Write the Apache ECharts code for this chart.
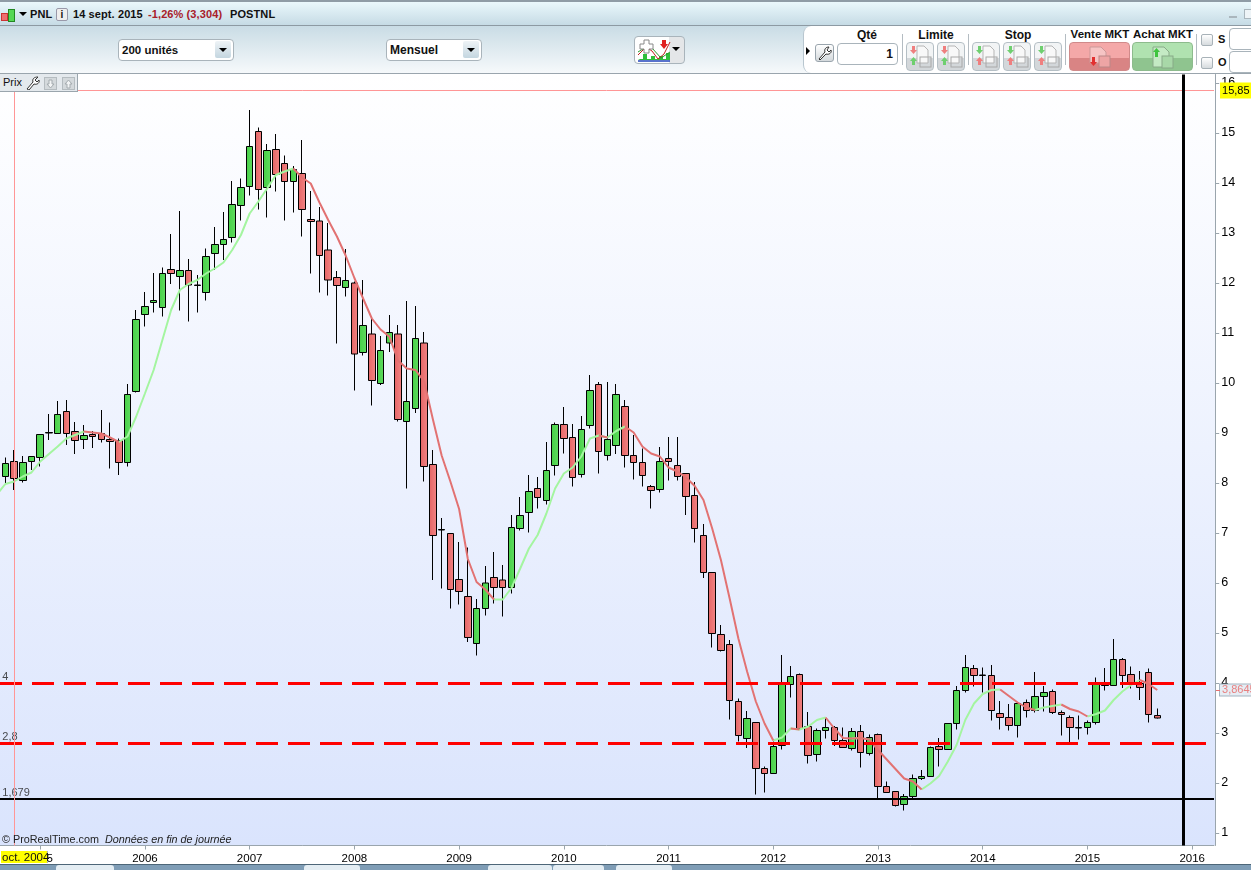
<!DOCTYPE html>
<html>
<head>
<meta charset="utf-8">
<title>PNL</title>
<script src="https://cdn.jsdelivr.net/npm/echarts@6/dist/echarts.min.js"></script>
<style>
  html, body { margin: 0; padding: 0; background: #fff; overflow: hidden; }
  body { width: 1251px; height: 870px; position: relative; font-family: "Liberation Sans", Arial, sans-serif; color: #111; }
  .abs { position: absolute; white-space: nowrap; }
  #plotBg { left: 0; top: 74px; width: 1215px; height: 771px; background: linear-gradient(#ffffff, #dae4fd); }
  #chart { position: absolute; left: 0; top: 0; width: 1251px; height: 870px; }
  #chrome { position: absolute; left: 0; top: 0; width: 1251px; height: 870px; pointer-events: none; }
  #topEdge { left: 0; top: 0; width: 1251px; height: 2px; background: #8f9ca6; }
  #titleBar { left: 0; top: 2px; width: 1251px; height: 23px; background: linear-gradient(#eaf8fc, #c6dbe5); border-bottom: 1px solid #8d9aa3; }
  #toolBar { left: 0; top: 26px; width: 1251px; height: 47px; background: linear-gradient(#c9dce5, #f6f9fb); border-bottom: 1px solid #9aa5ad; }
  #tradePanel { left: 803px; top: 26px; width: 448px; height: 47px; background: #fff; border-left: 1px solid #b8c6cf; border-radius: 8px 0 0 8px; }
  .title { font-size: 11px; letter-spacing: 0.1px; font-weight: bold; top: 8px; }
  .select { top: 39px; height: 20px; background: #fff; border: 1px solid #a9b4bb; border-radius: 4px; font-size: 12px; font-weight: bold; line-height: 20px; padding-left: 3px; box-sizing: content-box; }
  .arrow { width: 0; height: 0; border-left: 4px solid transparent; border-right: 4px solid transparent; border-top: 4px solid #000; }
  .selBtn { top: 41px; width: 16px; height: 17px; background: linear-gradient(#eef3f6, #c4d6e0); border-radius: 2px; }
  .label { font-size: 12px; font-weight: bold; top: 28px; transform: translateX(-50%); }
  .sep { top: 34px; width: 1px; height: 31px; background: #b4bcc2; }
  .btn { top: 42px; height: 27px; border: 1px solid #b5bfc5; border-radius: 4px; background: linear-gradient(#f2f4f5 0 55%, #d3d7da 55% 100%); }
  .btn svg { position: absolute; left: 0; top: 0; }
  .check { left: 1201px; width: 10px; height: 10px; border: 1px solid #a8b2b8; border-radius: 2px; background: linear-gradient(#fff, #d6dbde); }
  .field { left: 1229px; width: 30px; height: 20px; border: 1px solid #a9b4bb; border-radius: 4px; background: #fff; }
  #prixTab { left: 0; top: 74px; width: 77px; height: 17px; background: #e4e9ed; border-right: 1px solid #9aa5ad; border-bottom: 1px solid #9aa5ad; font-size: 11px; line-height: 17px; }
  .mini { top: 77px; width: 11px; height: 11px; background: #d4d9dc; border: 1px solid #b5bcc0; }
  .mini svg { display: block; }
  #crossLabel { left: 1px; top: 851px; width: 46px; height: 12px; background: #ffff00; font-size: 11.5px; line-height: 12px; border-right: 1px solid #aab3ba; }
  #copyright { left: 2px; top: 833px; font-size: 10.8px; color: #222; }
  #priceTick { left: 1216px; top: 690px; width: 4px; height: 1px; background: #e87070; }
  #bottomBar { left: 0; top: 864px; width: 1251px; height: 6px; background: #7f9db6; border-top: 1px solid #4d6678; box-sizing: border-box; }
  .tab { top: 865px; height: 5px; background: #e4edf3; border-radius: 3px 3px 0 0; }
</style>
</head>
<body>
<div id="plotBg" class="abs"></div>
<div id="chart"></div>
<div id="chrome">
  <div id="topEdge" class="abs"></div>
  <div id="titleBar" class="abs"></div>
  <div class="abs" style="left:1px;top:13px;width:5px;height:6px;background:#ee6f6f;border:1px solid #c33"></div>
  <div class="abs" style="left:8px;top:9px;width:5px;height:11px;background:#55d855;border:1px solid #282"></div>
  <div class="abs arrow" style="left:19px;top:12px"></div>
  <div class="abs title" style="left:30px">PNL</div>
  <div class="abs" style="left:56px;top:8px;width:10px;height:11px;border:1px solid #99a;border-radius:2px;background:#eee;font:bold 10px 'Liberation Sans';text-align:center;line-height:11px">i</div>
  <div class="abs title" style="left:73px">14 sept. 2015</div>
  <div class="abs title" style="left:148px;color:#a8202a">-1,26% (3,304)</div>
  <div class="abs title" style="left:230px">POSTNL</div>
  <div class="abs" style="left:1229px;top:16px;width:8px;height:2px;background:#aab6bd"></div>
  <div class="abs" style="left:1244px;top:9px;width:7px;height:8px;border:1px solid #aab6bd;background:#eef4f7"></div>

  <div id="toolBar" class="abs"></div>
  <div class="abs select" style="left:118px;width:111px;font-size:11.5px">200 unités</div>
  <div class="abs selBtn" style="left:215px"></div>
  <div class="abs arrow" style="left:219px;top:48px"></div>
  <div class="abs select" style="left:386px;width:91px">Mensuel</div>
  <div class="abs selBtn" style="left:463px"></div>
  <div class="abs arrow" style="left:467px;top:48px"></div>
  <div class="abs" style="left:634px;top:36px;width:49px;height:26px;border:1px solid #a9b4bb;border-radius:4px;background:linear-gradient(90deg,#fff 0 70%,#e4e6e8 70% 100%)">
    <svg width="36" height="26" style="position:absolute;left:2px;top:1px">
      <path d="M3 21h3v-5h4v5h4v-3h4v3h4v-3h4v3h3v-6h4v7H1z" fill="#2fbf3a"/>
      <path d="M1 23h32" stroke="#2244bb" stroke-width="1.5"/>
      <path d="M1 17l8-8 6 4 6 8 6-5 6-12" fill="none" stroke="#c02020"/>
      <path d="M1 14l8-5 6 1 9 10 9-6" fill="none" stroke="#2a9a2a"/>
      <path d="M3 6h4V2h5v4h4v5h-4v4H7v-4H3z" fill="#fff" stroke="#888"/>
      <path d="M25 2h4v4h2l-4 5-4-5h2z" fill="#e02020"/>
    </svg>
  </div>
  <div class="abs arrow" style="left:672px;top:47px"></div>

  <div id="tradePanel" class="abs"></div>
  <div class="abs" style="left:806px;top:47px;width:0;height:0;border-top:4px solid transparent;border-bottom:4px solid transparent;border-left:4px solid #000"></div>
  <div class="abs" style="left:815px;top:44px;width:17px;height:16px;border:1px solid #9aa5ad;border-radius:3px;background:linear-gradient(#fff,#d4d9dc)">
    <svg width="17" height="16"><path d="M3 14l6-7c-1-3 1-5 4-5l-2 3 2 2 2-2c1 3-2 5-5 4l-6 6z" fill="#fff" stroke="#333"/></svg>
  </div>
  <div class="abs label" style="left:867px">Qté</div>
  <div class="abs" style="left:837px;top:43px;width:55px;height:20px;border:1px solid #a9b4bb;border-radius:4px;font:bold 12px/20px 'Liberation Sans';text-align:right;padding-right:4px">1</div>
  <div class="abs sep" style="left:902px"></div>
  <div class="abs label" style="left:936px">Limite</div>
  <div class="abs btn tradeBtn" style="left:906px;width:26px"></div>
  <div class="abs btn tradeBtn" style="left:937px;width:26px"></div>
  <div class="abs sep" style="left:968px"></div>
  <div class="abs label" style="left:1018px">Stop</div>
  <div class="abs btn tradeBtn" style="left:972px;width:26px"></div>
  <div class="abs btn tradeBtn" style="left:1003px;width:26px"></div>
  <div class="abs btn tradeBtn" style="left:1034px;width:26px"></div>
  <div class="abs sep" style="left:1065px"></div>
  <div class="abs label" style="left:1100px;font-size:11.5px">Vente MKT</div>
  <div class="abs btn" style="left:1069px;width:59px;border-color:#d08a8a;background:linear-gradient(#f4a8a8 0 55%,#d98484 55% 100%)">
    <svg width="59" height="27"><path d="M20 4h11l5 5v11H20z" fill="#f6c4c4" stroke="#c99"/><rect x="29" y="13" width="11" height="11" fill="#eea5a5" stroke="#b88"/><path d="M22 14h3v5h2l-3.5 4-3.5-4h2z" fill="#e23030"/></svg>
  </div>
  <div class="abs label" style="left:1163px;font-size:11.5px">Achat MKT</div>
  <div class="abs btn" style="left:1132px;width:59px;border-color:#8dbb8d;background:linear-gradient(#b0e2b0 0 55%,#8fc48f 55% 100%)">
    <svg width="59" height="27"><path d="M20 4h11l5 5v15H20z" fill="#c4eac4" stroke="#8a8"/><rect x="29" y="13" width="11" height="12" fill="#a8d8a8" stroke="#8a8"/><path d="M22 14h3V9h2L23.500 5 20 9h2z" fill="#3ec43e"/></svg>
  </div>
  <div class="abs sep" style="left:1196px"></div>
  <div class="abs check" style="top:34px"></div>
  <div class="abs title" style="left:1218px;top:33px">S</div>
  <div class="abs field" style="top:28px"></div>
  <div class="abs check" style="top:57px"></div>
  <div class="abs title" style="left:1218px;top:56px">O</div>
  <div class="abs field" style="top:51px"></div>

  <div id="prixTab" class="abs"><span style="padding-left:3px">Prix</span></div>
  <svg class="abs" width="14" height="14" style="left:26px;top:76px"><path d="M1 13l6-7c-1-3 1-5 5-5L9 4l2 2 2-2c1 3-2 5-5 4l-5 6z" fill="#fff" stroke="#333"/></svg>
  <div class="abs mini" style="left:44px"><svg width="11" height="11"><path d="M4 2h3v4h2l-3.500 4L2 6h2z" fill="#f2f4f5" stroke="#a4abaf"/></svg></div>
  <div class="abs mini" style="left:62px"><svg width="11" height="11"><path d="M4 10h3V6h2L5.500 2 2 6h2z" fill="#f2f4f5" stroke="#a4abaf"/></svg></div>

  <div id="copyright" class="abs">© ProRealTime.com &nbsp;<i>Données en fin de journée</i></div>
  <div id="crossLabel" class="abs"><span style="padding-left:1px">oct. 2004</span></div>
  <div id="priceTick" class="abs"></div>
  <div id="bottomBar" class="abs"></div>
  <div class="abs tab" style="left:56px;width:58px"></div>
  <div class="abs tab" style="left:304px;width:56px"></div>
  <div class="abs tab" style="left:488px;width:64px"></div>
  <div class="abs tab" style="left:553px;width:51px"></div>
  <div class="abs tab" style="left:616px;width:56px"></div>
</div>

<script>
// mensuel, de août 2004 (hors écran) à mars 2016
const firstYear = 2004
const firstMonth = 7
const monthCount = 140
const tickYears = ['2005', '2006', '2007', '2008', '2009', '2010', '2011', '2012', '2013', '2014', '2015', '2016']
const priceTicks = [1, 2, 3, 4, 5, 6, 7, 8, 9, 10, 11, 12, 13, 14, 15, 16]

const opens = ['-',
  8.13, 8.43, 8.05, 8.43, 8.51, 9.00, 8.99, 9.43, 9.03, 8.87,
  8.97, 8.99, 8.87, 8.85, 8.41, 9.83, 11.37, 11.61, 11.51, 12.27,
  12.13, 12.25, 11.95, 11.81, 12.59, 12.77, 12.91, 13.55, 13.93, 15.03,
  13.91, 14.67, 14.39, 14.03, 14.19, 13.27, 13.24, 12.66, 12.11, 11.91,
  12.00, 10.61, 10.98, 9.99, 10.80, 10.98, 9.23, 9.49, 10.80, 8.37,
  7.06, 6.99, 6.07, 5.73, 4.79, 5.49, 6.11, 6.06, 5.91, 7.09,
  7.41, 7.89, 7.65, 8.35, 9.17, 8.91, 8.17, 9.15, 9.97, 8.55,
  8.75, 9.53, 8.55, 8.41, 7.93, 7.87, 8.49, 8.35, 8.19, 7.75,
  6.95, 6.21, 4.97, 4.77, 3.63, 2.89, 3.21, 2.29, 2.19, 2.75,
  3.97, 4.17, 3.13, 2.57, 3.05, 3.11, 2.85, 2.69, 3.03, 2.59,
  2.97, 1.93, 1.83, 1.57, 1.73, 2.09, 2.13, 2.73, 2.67, 3.19,
  3.85, 4.29, 4.15, 4.15, 3.39, 3.31, 3.15, 3.61, 3.45, 3.73,
  3.83, 3.41, 3.31, 3.10, 3.11, 3.21, 3.95, 3.95, 4.47, 4.17,
  3.99, 4.21, 3.35
]
const closes = ['-',
  8.39, 8.09, 8.41, 8.53, 8.97, 9.01, 9.37, 8.99, 8.85, 8.95,
  8.93, 8.87, 8.83, 8.41, 9.77, 11.27, 11.53, 11.65, 12.19, 12.19,
  12.25, 11.96, 11.96, 12.53, 12.77, 12.87, 13.57, 13.91, 14.73, 13.87,
  14.65, 14.17, 14.03, 14.27, 13.47, 13.23, 12.55, 12.06, 11.95, 12.05,
  10.58, 11.15, 10.05, 10.65, 11.01, 9.27, 9.63, 10.89, 8.33, 6.95,
  7.07, 5.87, 5.83, 4.91, 5.49, 6.00, 5.91, 5.91, 7.11, 7.35,
  7.83, 7.71, 8.25, 9.17, 8.89, 8.11, 9.07, 9.85, 8.63, 8.87,
  9.77, 8.55, 8.41, 8.15, 7.85, 8.43, 8.43, 8.13, 7.73, 7.09,
  6.21, 4.99, 4.65, 3.65, 2.95, 3.29, 2.29, 2.19, 2.73, 4.01,
  4.13, 3.09, 2.55, 3.05, 3.11, 2.85, 2.71, 3.03, 2.61, 2.91,
  1.93, 1.81, 1.55, 1.73, 2.09, 2.13, 2.71, 2.67, 3.19, 3.85,
  4.31, 4.15, 4.16, 3.45, 3.31, 3.15, 3.59, 3.45, 3.73, 3.81,
  3.41, 3.37, 3.11, 3.11, 3.21, 3.99, 3.96, 4.47, 4.15, 3.99,
  3.91, 3.37, 3.30
]
const lows = ['-',
  7.99, 7.86, 8.01, 8.26, 8.33, 8.86, 8.99, 8.76, 8.58, 8.68,
  8.70, 8.81, 8.29, 8.16, 8.33, 9.81, 11.13, 11.41, 11.33, 11.98,
  11.45, 11.23, 11.41, 11.65, 12.26, 12.46, 12.81, 13.25, 13.75, 13.47,
  13.31, 13.83, 13.25, 13.41, 12.93, 12.19, 11.81, 11.75, 10.79, 11.73,
  9.85, 10.55, 9.55, 9.96, 10.62, 9.23, 7.89, 9.40, 8.03, 6.06,
  5.89, 5.49, 5.57, 4.82, 4.55, 5.35, 5.59, 5.33, 5.79, 7.05,
  7.01, 7.49, 7.57, 8.15, 8.59, 7.93, 8.11, 9.09, 8.19, 8.45,
  8.58, 8.31, 8.07, 7.93, 7.49, 7.81, 8.05, 8.05, 7.36, 6.81,
  6.10, 4.71, 4.63, 3.27, 2.83, 2.70, 1.77, 1.81, 2.18, 2.67,
  3.71, 3.07, 2.39, 2.43, 2.89, 2.74, 2.70, 2.65, 2.31, 2.55,
  1.69, 1.81, 1.53, 1.45, 1.69, 2.06, 2.13, 2.33, 2.67, 3.07,
  3.81, 3.93, 3.81, 3.25, 3.07, 3.05, 2.91, 3.31, 3.41, 3.43,
  3.38, 2.95, 2.81, 2.87, 2.97, 3.17, 3.85, 3.95, 3.90, 3.89,
  3.66, 3.21, 3.29
]
const highs = ['-',
  8.51, 8.66, 8.54, 8.54, 8.97, 9.38, 9.64, 9.66, 9.22, 9.16,
  9.04, 9.46, 9.21, 8.89, 9.98, 11.46, 11.82, 12.20, 12.31, 12.98,
  13.44, 12.48, 12.16, 12.69, 13.12, 13.42, 14.04, 14.09, 15.46, 15.11,
  14.78, 14.98, 14.55, 14.34, 14.86, 13.84, 13.52, 13.20, 12.24, 12.68,
  12.03, 12.06, 11.29, 10.94, 11.36, 11.16, 11.64, 11.54, 11.02, 8.66,
  7.30, 6.99, 6.82, 6.71, 5.68, 6.34, 6.62, 6.36, 7.36, 7.72,
  8.16, 8.12, 8.82, 9.21, 9.52, 9.18, 9.34, 10.16, 10.02, 10.02,
  9.98, 9.66, 8.96, 8.69, 7.96, 8.72, 8.92, 8.92, 8.19, 8.02,
  7.18, 6.21, 5.16, 4.86, 3.69, 3.44, 3.21, 2.33, 2.83, 4.56,
  4.34, 4.19, 3.42, 3.09, 3.29, 3.14, 3.11, 3.10, 3.16, 2.97,
  2.99, 2.03, 1.83, 1.78, 2.17, 2.26, 2.73, 2.90, 3.19, 3.94,
  4.56, 4.36, 4.31, 4.36, 3.64, 3.58, 3.59, 3.67, 4.22, 3.94,
  3.87, 3.45, 3.35, 3.35, 3.25, 4.11, 4.30, 4.88, 4.50, 4.33,
  4.24, 4.29, 3.49
]
// moyenne mobile
const maValues = [7.76,
  7.98, 8.03, 8.13, 8.21, 8.43, 8.58, 8.73, 8.89, 8.96, 9.03,
  9.01, 8.99, 8.91, 8.82, 8.93, 9.33, 9.79, 10.26, 10.86, 11.46,
  11.86, 11.98, 12.06, 12.19, 12.29, 12.41, 12.66, 12.96, 13.39, 13.63,
  13.89, 14.16, 14.23, 14.29, 14.11, 13.99, 13.61, 13.26, 12.93, 12.55,
  12.10, 11.69, 11.29, 11.07, 10.93, 10.45, 10.29, 10.26, 10.03, 9.27,
  8.55, 8.03, 7.48, 6.48, 6.02, 5.87, 5.67, 5.67, 5.90, 6.29,
  6.69, 6.96, 7.39, 7.89, 8.19, 8.31, 8.53, 8.89, 8.95, 8.91,
  9.04, 9.13, 9.01, 8.73, 8.59, 8.53, 8.31, 8.23, 8.11, 7.94,
  7.66, 7.09, 6.46, 5.69, 4.89, 4.23, 3.63, 3.19, 2.85, 2.91,
  3.09, 3.07, 3.13, 3.26, 3.31, 3.09, 2.90, 2.89, 2.90, 2.87,
  2.66, 2.47, 2.28, 2.09, 2.03, 1.87, 1.99, 2.14, 2.43, 2.76,
  3.26, 3.59, 3.78, 3.86, 3.87, 3.74, 3.61, 3.51, 3.46, 3.51,
  3.54, 3.57, 3.48, 3.43, 3.33, 3.38, 3.45, 3.66, 3.83, 3.96,
  4.06, 3.98, 3.86
]
const supportLevels = [4, 2.8]
const supportLabels = ['4', '2,8']
const lowLevel = 1.679
const lowLabel = '1,679'
const crossPrice = 15.85
const crossLabel = '15,85'
const lastPrice = 3.8645
const lastLabel = '3,8645'
const crossMonth = '2004-10'
const endMonth = '2015-12'

const months = []
for (let i = 0; i < monthCount; i++) {
  const total = firstYear * 12 + firstMonth + i
  const m = total % 12 + 1
  months.push(Math.floor(total / 12) + '-' + (m < 10 ? '0' + m : m))
}

const candleData = opens.map((o, i) => o === '-' ? '-' : [o, closes[i], lows[i], highs[i]])

// vert quand la moyenne monte, rouge quand elle baisse
const maUp = maValues.map(() => null)
const maDown = maValues.map(() => null)
for (let i = 0; i < maValues.length - 1; i++) {
  const target = maValues[i + 1] >= maValues[i] ? maUp : maDown
  target[i] = maValues[i]
  target[i + 1] = maValues[i + 1]
}

const isYearTick = (index, value) => value.endsWith('-01') && tickYears.includes(value.slice(0, 4))
const fontName = '"Liberation Sans", Arial, sans-serif'
const axisGray = '#9aa5ad'

const hLine = (value, color, width, type, offset) => ({
  yAxis: value,
  lineStyle: { color: color, width: width, type: type, dashOffset: offset || 0 },
  label: { show: false }
})

const chart = echarts.init(document.getElementById('chart'), null, { renderer: 'canvas' })
chart.setOption({
  animation: false,
  backgroundColor: 'transparent',
  grid: { left: -7.79, top: 74.5, width: 1221.8, height: 771, outerBoundsMode: 'none' },
  xAxis: {
    type: 'category',
    data: months,
    boundaryGap: true,
    axisLine: { show: true, onZero: false, lineStyle: { color: axisGray } },
    axisTick: { show: true, alignWithLabel: true, interval: isYearTick, length: 4, lineStyle: { color: axisGray } },
    axisLabel: {
      interval: isYearTick,
      formatter: value => value.slice(0, 4),
      color: '#000',
      fontFamily: fontName,
      fontSize: 11.5,
      margin: 7
    },
    splitLine: { show: false }
  },
  yAxis: {
    type: 'value',
    position: 'right',
    offset: 1.2,
    min: 0.75,
    max: 16.17,
    axisLine: { show: true, lineStyle: { color: axisGray } },
    axisTick: { show: true, customValues: priceTicks, length: 4, lineStyle: { color: axisGray } },
    axisLabel: { customValues: priceTicks, color: '#000', fontFamily: fontName, fontSize: 12.5, margin: 6 },
    splitLine: { show: false }
  },
  series: [
    {
      name: 'PNL',
      type: 'candlestick',
      data: candleData,
      barWidth: 7,
      itemStyle: {
        color: new echarts.graphic.LinearGradient(0, 0, 1, 0, [
          { offset: 0, color: '#46cf46' }, { offset: 1, color: '#60dc60' }
        ]),
        color0: new echarts.graphic.LinearGradient(0, 0, 1, 0, [
          { offset: 0, color: '#e46464' }, { offset: 1, color: '#f28484' }
        ]),
        borderColor: '#000',
        borderColor0: '#000',
        borderWidth: 1
      },
      markLine: {
        silent: true,
        symbol: 'none',
        animation: false,
        data: [
          hLine(supportLevels[0], '#ff0000', 3, [22, 10], 24.21),
          hLine(supportLevels[1], '#ff0000', 3, [22, 10], 24.21),
          hLine(lowLevel, '#000', 2, 'solid'),
          {
            yAxis: crossPrice,
            lineStyle: { color: '#ff9696', width: 1, type: 'solid' },
            label: {
              show: true, position: 'end', distance: 6, formatter: crossLabel,
              backgroundColor: '#ffff00', color: '#000', fontFamily: fontName, fontSize: 11, padding: [3, 2, 2, 2]
            }
          },
          {
            yAxis: lastPrice,
            lineStyle: { color: 'transparent', width: 1 },
            label: {
              show: true, position: 'end', distance: 6, formatter: lastLabel,
              backgroundColor: '#e6edf4', borderColor: '#a3b3c0', borderWidth: 1,
              color: '#e88080', fontFamily: fontName, fontSize: 11, padding: [0, 2]
            }
          },
          { xAxis: crossMonth, lineStyle: { color: '#ff9696', width: 1, type: 'solid' }, label: { show: false } },
          { xAxis: endMonth, lineStyle: { color: '#000', width: 3, type: 'solid' }, label: { show: false } }
        ]
      }
    },
    {
      name: 'MM hausse',
      type: 'line',
      data: maUp,
      symbol: 'none',
      connectNulls: false,
      lineStyle: { color: '#a4f5a0', width: 2 }
    },
    {
      name: 'MM baisse',
      type: 'line',
      data: maDown,
      symbol: 'none',
      connectNulls: false,
      lineStyle: { color: '#e27272', width: 2 }
    },
    {
      name: 'Niveaux',
      type: 'scatter',
      symbolSize: 0,
      silent: true,
      data: [
        { value: [months[1], supportLevels[0]], name: supportLabels[0] },
        { value: [months[1], supportLevels[1]], name: supportLabels[1] },
        { value: [months[1], lowLevel], name: lowLabel }
      ],
      label: {
        show: true,
        position: [-3, -12],
        align: 'left',
        formatter: params => params.name,
        color: '#222',
        fontFamily: fontName,
        fontSize: 11
      }
    }
  ]
})

// petits boutons d'ordre (décoratifs)
document.querySelectorAll('.tradeBtn').forEach((el, i) => {
  const stop = i >= 2
  const first = stop ? '#6fcf6f' : '#ef7f7f'
  const second = stop ? '#ef7f7f' : '#6fcf6f'
  el.innerHTML = '<svg width="26" height="27">' +
    '<path d="M10 3h7l4 4v13H10z" fill="#f8f8f8" stroke="#b5b5b5"/>' +
    '<rect x="13" y="14" width="11" height="10" fill="none" stroke="#a8a8a8"/>' +
    '<path d="M5 3h3v4h2l-3.500 4-3.500-4h2z" fill="' + first + '"/>' +
    '<path d="M5 22h3v-4h2l-3.500-4-3.500 4h2z" fill="' + second + '"/></svg>'
})

window.addEventListener('resize', () => chart.resize())
</script>
</body>
</html>
